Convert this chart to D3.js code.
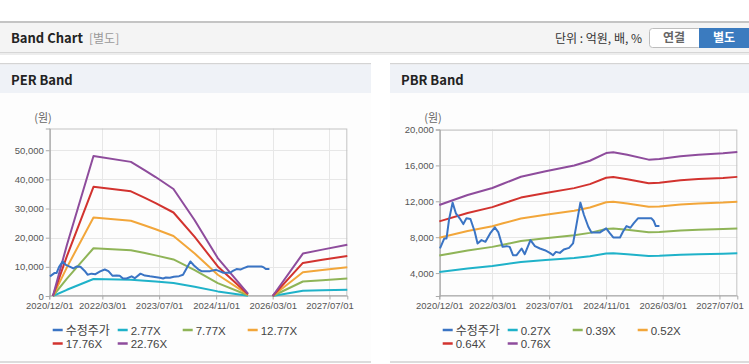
<!DOCTYPE html>
<html><head><meta charset="utf-8">
<script src="https://cdn.jsdelivr.net/npm/d3@7"></script>
<style>
html,body{margin:0;padding:0;background:#fff;}
svg{display:block;}
</style></head>
<body>
<svg id="c" width="749" height="364"></svg>
<script>
// ---------- DATA ----------
const perBandDates = ["2021-01-01","2021-05-01","2021-12-15","2022-11-01","2023-03-01","2023-06-01","2023-11-01","2024-05-01","2024-11-15","2025-08-01","2025-11-01","2026-03-01","2026-11-15","2027-05-01","2027-12-01"];
const per2_77  = [0, 2130, 5842, 5598, 5245, 4965, 4466, 3164, 1582, 97, null, 0, 1771, 1935, 2142];
const per7_77  = [0, 5975, 16387, 15704, 14714, 13929, 12529, 8876, 4438, 273, null, 0, 4967, 5428, 6009];
const per12_77 = [0, 9819, 26933, 25811, 24183, 22893, 20592, 14589, 7294, 449, null, 0, 8164, 8921, 9875];
const per17_76 = [0, 13655, 37454, 35894, 33631, 31836, 28637, 20288, 10144, 624, null, 0, 11353, 12407, 13733];
const per22_76 = [0, 17500, 48000, 46000, 43100, 40800, 36700, 26000, 13000, 800, null, 0, 14550, 15900, 17600];

const priceDates = ["2020-12-07","2021-01-13","2021-02-01","2021-02-22","2021-03-25","2021-04-22","2021-05-25","2021-06-25","2021-07-22","2021-08-25","2021-10-01","2021-10-25","2021-11-28","2022-01-01","2022-02-10","2022-03-22","2022-04-22","2022-05-28","2022-07-01","2022-07-28","2022-08-25","2022-09-25","2022-11-07","2022-12-04","2023-01-22","2023-03-01","2023-04-13","2023-05-25","2023-07-07","2023-08-04","2023-08-28","2023-10-01","2023-11-04","2023-12-19","2024-01-22","2024-02-15","2024-03-25","2024-04-25","2024-06-01","2024-06-28","2024-09-10","2024-11-01","2024-12-04","2025-01-01","2025-02-28","2025-03-25","2025-04-25","2025-05-28","2025-06-25","2025-08-01","2025-11-25","2025-12-15","2026-01-01","2026-02-01"];
const priceValues = [6740,7860,7860,9910,11850,10660,10100,9460,10100,10020,8600,7300,7670,7480,8420,9090,8530,6920,7000,6920,5990,5990,6740,6100,7670,7000,6740,6550,6250,5990,6360,6250,6630,6810,7300,8980,11850,10470,9160,8530,8530,8980,8420,7970,7970,8600,9240,9050,9540,10100,10100,9800,9240,9240];

const pbrBandDates = ["2020-12-01","2021-08-01","2022-03-01","2022-06-01","2022-11-01","2023-06-01","2024-02-01","2024-06-15","2024-11-01","2025-01-01","2025-05-01","2025-11-01","2026-02-01","2026-08-01","2027-01-01","2027-08-01","2027-12-01"];
const pbr0_27 = [4118,4512,4789,4956,5237,5454,5681,5870,6172,6203,6104,5912,5934,6047,6108,6161,6211];
const pbr0_39 = [5948,6518,6918,7159,7565,7878,8206,8478,8914,8960,8817,8540,8570,8735,8822,8899,8971];
const pbr0_52 = [7930,8689,9223,9545,10085,10502,10940,11303,11885,11946,11755,11385,11426,11645,11761,11864,11960];
const pbr0_64 = [9760,10695,11351,11747,12413,12926,13465,13911,14627,14703,14467,14013,14063,14333,14476,14602,14720];
const pbr0_76 = [11590,12700,13480,13950,14740,15350,15990,16520,17370,17460,17180,16640,16700,17020,17190,17340,17480];

const xTickLabels = ["2020/12/01","2022/03/01","2023/07/01","2024/11/01","2026/03/01","2027/07/01"];
const perYTicks = [0,10000,20000,30000,40000,50000];
const pbrYTicks = [4000,8000,12000,16000,20000];
const perNames = ["수정주가","2.77X","7.77X","12.77X","17.76X","22.76X"];
const pbrNames = ["수정주가","0.27X","0.39X","0.52X","0.64X","0.76X"];
const colors = ["#3a74c4","#1fb2c9","#8fb457","#f2a63a","#d2332f","#8e4c9c"];

// ---------- DRAW ----------
const svg = d3.select("#c");
const parse = d3.timeParse("%Y-%m-%d");
const parseTick = d3.timeParse("%Y/%m/%d");
const KR = "'Noto Sans CJK KR','Noto Sans',sans-serif";
const NUM = "'Liberation Sans',Arial,sans-serif";

// page header
svg.append("rect").attr("x",0).attr("y",0).attr("width",749).attr("height",364).attr("fill","#fff");
svg.append("rect").attr("x",0).attr("y",21).attr("width",749).attr("height",2).attr("fill","#c4c4c4");
svg.append("rect").attr("x",0).attr("y",23).attr("width",749).attr("height",29).attr("fill","#f4f4f4");
svg.append("rect").attr("x",0).attr("y",52).attr("width",749).attr("height",1).attr("fill","#d6d6d6");
svg.append("rect").attr("x",0).attr("y",53).attr("width",749).attr("height",2).attr("fill","#ededed");
svg.append("text").attr("x",11).attr("y",43).attr("font-family",KR).attr("font-weight","bold")
  .attr("font-size",13).attr("fill","#222").text("Band Chart");
svg.append("text").attr("x",89).attr("y",43).attr("font-family",KR)
  .attr("font-size",12).attr("fill","#999").text("[별도]");
svg.append("text").attr("x",642).attr("y",43).attr("text-anchor","end").attr("font-family",KR)
  .attr("font-size",12).attr("fill","#333").text("단위 : 억원, 배, %");
svg.append("rect").attr("x",649.5).attr("y",28.5).attr("width",52).attr("height",19).attr("rx",3)
  .attr("fill","#fff").attr("stroke","#bdbdbd");
svg.append("text").attr("x",674).attr("y",42).attr("text-anchor","middle").attr("font-family",KR)
  .attr("font-weight","bold").attr("font-size",12).attr("fill","#666").text("연결");
svg.append("rect").attr("x",699).attr("y",28).attr("width",50).attr("height",20).attr("fill","#3b7bbf");
svg.append("text").attr("x",724).attr("y",42).attr("text-anchor","middle").attr("font-family",KR)
  .attr("font-weight","bold").attr("font-size",12).attr("fill","#fff").text("별도");

function panel(x0, w, title){
  svg.append("rect").attr("x",x0).attr("y",63).attr("width",w).attr("height",1.5).attr("fill","#d4d4d4");
  svg.append("rect").attr("x",x0).attr("y",64.5).attr("width",w).attr("height",28.5).attr("fill","#eff2f7");
  svg.append("rect").attr("x",x0).attr("y",93).attr("width",w).attr("height",268).attr("fill","#fdfdfd");
  svg.append("rect").attr("x",x0).attr("y",361).attr("width",w).attr("height",2).attr("fill","#dcdcdc");
  svg.append("text").attr("x",x0+11).attr("y",85).attr("font-family",KR).attr("font-weight","bold")
    .attr("font-size",13).attr("fill","#222").text(title);
}
panel(0,371,"PER Band");
panel(390,359,"PBR Band");

function chart(cfg){
  const x = d3.scaleTime().domain([parse("2020-12-01"), parse("2027-12-01")]).range([cfg.left, cfg.right]);
  const y = d3.scaleLinear().domain(cfg.yDomain).range([cfg.bottom, cfg.top]);
  const g = svg.append("g");
  const tickDates = xTickLabels.map(parseTick);
  g.selectAll(".hg").data(cfg.yTicks).join("line")
    .attr("x1",cfg.left).attr("x2",cfg.right).attr("y1",d=>Math.round(y(d))+0.5).attr("y2",d=>Math.round(y(d))+0.5)
    .attr("stroke","#e7e7e7");
  g.selectAll(".vg").data(tickDates).join("line")
    .attr("x1",d=>Math.round(x(d))+0.5).attr("x2",d=>Math.round(x(d))+0.5).attr("y1",cfg.top).attr("y2",cfg.bottom)
    .attr("stroke","#e7e7e7");
  g.append("rect").attr("x",cfg.left+0.5).attr("y",cfg.top+0.5)
    .attr("width",cfg.right-cfg.left-1).attr("height",cfg.bottom-cfg.top-1)
    .attr("fill","none").attr("stroke","#c4c4c4");
  const ya = g.append("g").attr("transform",`translate(${cfg.left+0.5},0)`)
    .call(d3.axisLeft(y).tickValues(cfg.yTicks).tickFormat(d3.format(",")).tickSize(4).tickPadding(2));
  const xa = g.append("g").attr("transform",`translate(0,${cfg.bottom-0.5})`)
    .call(d3.axisBottom(x).tickValues(tickDates).tickFormat(d3.timeFormat("%Y/%m/%d")).tickSize(4).tickPadding(3));
  [ya,xa].forEach(a=>{
    a.select(".domain").attr("stroke","#aaa");
    a.selectAll(".tick line").attr("stroke","#aaa");
    a.selectAll("text").attr("font-family",NUM).attr("font-size",9.5).attr("fill","#555");
  });
  svg.append("text").attr("x",cfg.unitX).attr("y",122).attr("text-anchor","middle")
    .attr("font-family",KR).attr("font-size",11).attr("fill","#666").text("(원)");
  const line = d3.line().defined(d=>d.v!=null).x(d=>x(d.d)).y(d=>y(d.v));
  const series = [
    {dates:priceDates, vals:priceValues},
    ...cfg.bands.map(b=>({dates:cfg.bandDates, vals:b}))
  ];
  const order = [1,2,3,4,5,0];
  order.forEach(i=>{
    const s = series[i];
    const pts = s.dates.map((d,k)=>({d:parse(d), v:s.vals[k]}));
    g.append("path").attr("d",line(pts)).attr("fill","none")
      .attr("stroke",colors[i]).attr("stroke-width",2).attr("stroke-linejoin","round");
  });
  cfg.names.forEach((n,i)=>{
    const lx = cfg.legendX + (i%4)*65, ly = i<4 ? 330 : 343.5;
    g.append("line").attr("x1",lx).attr("x2",lx+10).attr("y1",ly).attr("y2",ly)
      .attr("stroke",colors[i]).attr("stroke-width",2.5);
    g.append("text").attr("x",lx+13).attr("y",ly+4.5).attr("font-family",i===0?KR:NUM)
      .attr("font-size",i===0?12:11.5).attr("fill","#444").text(n);
  });
}

chart({left:49.3,right:347.3,top:128.5,bottom:296,yDomain:[0,57450],yTicks:perYTicks,
  bandDates:perBandDates,bands:[per2_77,per7_77,per12_77,per17_76,per22_76],
  names:perNames,legendX:52.7,unitX:43});
chart({left:439.3,right:737.3,top:129.5,bottom:296,yDomain:[1444,20000],yTicks:pbrYTicks,
  bandDates:pbrBandDates,bands:[pbr0_27,pbr0_39,pbr0_52,pbr0_64,pbr0_76],
  names:pbrNames,legendX:442.7,unitX:433});
</script>
</body></html>
